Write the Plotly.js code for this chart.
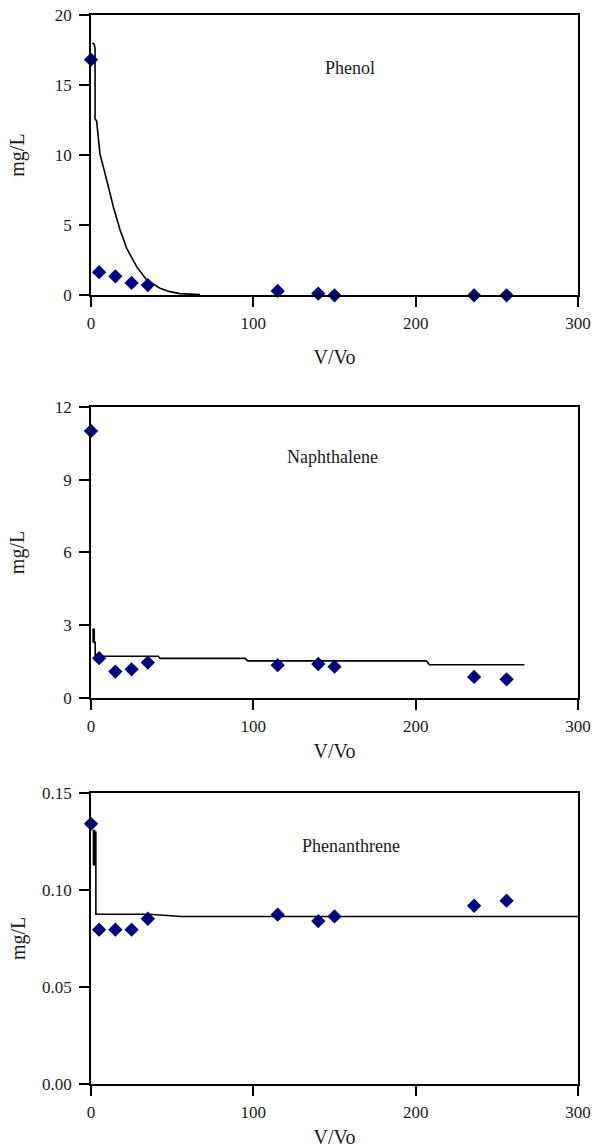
<!DOCTYPE html>
<html>
<head>
<meta charset="utf-8">
<script src="https://cdn.plot.ly/plotly-3.0.1.min.js"></script>
<style>html,body{margin:0;padding:0;background:#fff;}#chart{width:594px;height:1148px;}</style>
</head>
<body>
<div id="chart"></div>
<script>
// Observed data (common V/Vo sampling points)
const vvo = [0, 5, 15, 25, 35, 115, 140, 150, 236, 256];
const phenolObs = [16.8, 1.65, 1.35, 0.88, 0.73, 0.31, 0.12, 0.0, 0.0, 0.0];
const naphObs = [11.0, 1.65, 1.10, 1.19, 1.47, 1.36, 1.41, 1.30, 0.88, 0.78];
const phenanObs = [0.134, 0.0795, 0.0795, 0.0795, 0.0851, 0.0872, 0.0839, 0.0863, 0.0918, 0.0944];

// Model curves
const phenolModelX = [0.8, 2.0, 2.5, 2.5, 3.5, 5.5, 9.7, 13.8, 17.9, 22.0, 28.1, 34.3, 42.5, 48.6, 54.8, 67.1];
const phenolModelY = [18.0, 17.9, 17.6, 12.6, 12.4, 10.1, 8.2, 6.3, 4.65, 3.35, 2.04, 1.09, 0.5, 0.26, 0.12, 0.05];
const naphModelX = [1.3, 1.3, 2.0, 2.0, 2.6, 2.6, 41.5, 42.5, 95, 96.5, 206.5, 208.5, 267];
const naphModelY = [2.3, 2.84, 2.84, 2.3, 2.3, 1.73, 1.73, 1.64, 1.64, 1.54, 1.54, 1.38, 1.38];
const phenanModelX = [1.5, 1.5, 2.2, 2.2, 3.0, 3.0, 35.6, 55.8, 300];
const phenanModelY = [0.1125, 0.1305, 0.1305, 0.1125, 0.130, 0.0874, 0.0874, 0.0863, 0.0863];

const panelNames = ['Phenol', 'Naphthalene', 'Phenanthrene'];
const panelLabelPos = [[159.5, 16.2], [149, 9.94], [160, 0.1228]];
const yRanges = [[0, 20], [0, 12], [0, 0.15]];
const yTickVals = [[0, 5, 10, 15, 20], [0, 3, 6, 9, 12], [0, 0.05, 0.10, 0.15]];
const yFormats = ['', '', '.2f'];
const xTicks = [0, 100, 200, 300];

const obsSets = [phenolObs, naphObs, phenanObs];
const modelSets = [[phenolModelX, phenolModelY], [naphModelX, naphModelY], [phenanModelX, phenanModelY]];

const FONT = 'Liberation Serif';
const domains = [[0.7371, 0.9993], [0.3605, 0.6330], [0.0, 0.2722]];
const xTitleStandoff = [18, 9, 9];
const yTitleStandoff = [25, 25, 11];

const traces = [];
const layout = {
  width: 594, height: 1148,
  margin: {l: 91, r: 16, t: 14, b: 64},
  paper_bgcolor: '#fff', plot_bgcolor: '#fff',
  showlegend: false,
  font: {family: FONT, size: 17, color: '#1a1a1a'},
  annotations: []
};

for (let i = 0; i < 3; i++) {
  const n = i + 1;
  const xs = n === 1 ? '' : String(n);
  const xa = 'x' + xs, ya = 'y' + xs;
  traces.push({
    x: modelSets[i][0], y: modelSets[i][1], xaxis: xa, yaxis: ya,
    mode: 'lines', line: {color: '#000', width: 1.6}, hoverinfo: 'skip'
  });
  traces.push({
    x: vvo, y: obsSets[i], xaxis: xa, yaxis: ya, cliponaxis: false,
    mode: 'markers', marker: {symbol: 'diamond', size: 11, color: '#000080'}
  });
  const tk = {ticklen: 10, tickwidth: 1.8, tickcolor: '#000000'};
  layout['xaxis' + xs] = Object.assign({
    domain: [0, 1], anchor: ya, range: [0, 300],
    showline: true, linecolor: '#000', linewidth: 1.5, mirror: true,
    showgrid: false, zeroline: false,
    ticks: 'outside', tickvals: xTicks, ticklabelstandoff: 2,
    tickfont: {family: FONT, size: 17, color: '#1a1a1a'},
    title: {text: 'V/Vo', standoff: xTitleStandoff[i], font: {family: FONT, size: 20, color: '#1a1a1a'}}
  }, tk);
  layout['yaxis' + xs] = Object.assign({
    domain: domains[i], anchor: xa, range: yRanges[i],
    showline: true, linecolor: '#000', linewidth: 1.5, mirror: true,
    showgrid: false, zeroline: false,
    ticks: 'outside', tickvals: yTickVals[i], tickformat: yFormats[i], ticklabelstandoff: 4,
    tickfont: {family: FONT, size: 17, color: '#1a1a1a'},
    title: {text: 'mg/L', standoff: yTitleStandoff[i], font: {family: FONT, size: 20, color: '#1a1a1a'}}
  }, tk);
  // inner half of the crossing tick marks
  layout['xaxis' + (n + 3)] = Object.assign({
    overlaying: xa, anchor: ya, range: [0, 300], tickvals: xTicks,
    ticks: 'inside', showticklabels: false, showline: false, showgrid: false, zeroline: false
  }, tk);
  layout['yaxis' + (n + 3)] = Object.assign({
    overlaying: ya, anchor: xa, range: yRanges[i], tickvals: yTickVals[i],
    ticks: 'inside', showticklabels: false, showline: false, showgrid: false, zeroline: false
  }, tk);
  layout.annotations.push({
    xref: xa, yref: ya, x: panelLabelPos[i][0], y: panelLabelPos[i][1],
    text: panelNames[i], showarrow: false,
    font: {family: FONT, size: 18, color: '#1a1a1a'}
  });
}

Plotly.newPlot('chart', traces, layout, {displayModeBar: false});
</script>
</body>
</html>
